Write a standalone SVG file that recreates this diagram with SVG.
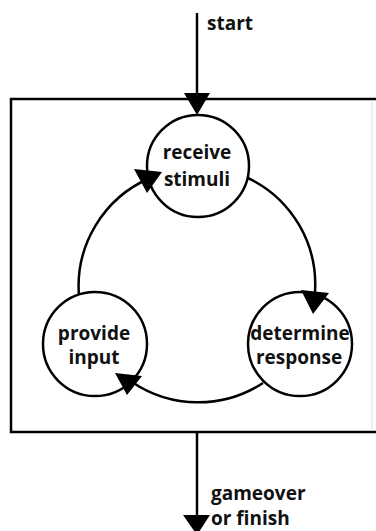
<svg xmlns="http://www.w3.org/2000/svg" width="376" height="531" viewBox="0 0 376 531">
<style>
.ln{fill:none;stroke:#000;stroke-width:2.5}
.nd{fill:#fff;stroke:#000;stroke-width:2.5}
.ah{fill:#000;stroke:none}
.t{font-family:"Open Sans","Liberation Sans",sans-serif;font-weight:bold;font-size:19px;fill:#111}
.c{text-anchor:middle}
</style>
<rect x="0" y="0" width="376" height="531" fill="#fff"/>
<g id="frame">
<path class="ln" d="M376 99 H11 V432 H376" stroke-width="3"/>
<line x1="372" y1="100" x2="372" y2="431" stroke="#ddd" stroke-width="1"/>
</g>
<g id="connectors">
<line class="ln" x1="197" y1="13" x2="197" y2="100"/>
<polygon class="ah" points="184,93 210,93 197,115"/>
<path class="ln" d="M248 178 A118 118 0 0 1 315 292"/>
<path class="ln" d="M263 383 A118 118 0 0 1 132 382"/>
<path class="ln" d="M79 296 A118 118 0 0 1 150 178"/>
<line class="ln" x1="197" y1="432" x2="197" y2="520"/>
</g>
<g id="receive">
<circle class="nd" cx="198" cy="166" r="51"/>
<text class="t c" x="197" y="159">receive</text>
<text class="t c" x="197" y="186">stimuli</text>
</g>
<g id="determine">
<circle class="nd" cx="300" cy="344" r="52"/>
<text class="t c" x="300" y="340">determine</text>
<text class="t c" x="299" y="364">response</text>
</g>
<g id="provide">
<circle class="nd" cx="95" cy="344" r="52"/>
<text class="t c" x="94" y="340">provide</text>
<text class="t c" x="94" y="364">input</text>
</g>
<g id="arrowheads">
<polygon class="ah" points="134,169 162,172 147,193"/>
<polygon class="ah" points="301,290 329,293 313,314"/>
<polygon class="ah" points="115,373 142,376 127,395"/>
<polygon class="ah" points="183,515 210,515 197,535"/>
</g>
<g id="labels">
<text class="t" x="207" y="30">start</text>
<text class="t" x="211" y="500">gameover</text>
<text class="t" x="211" y="525">or finish</text>
</g>
</svg>
